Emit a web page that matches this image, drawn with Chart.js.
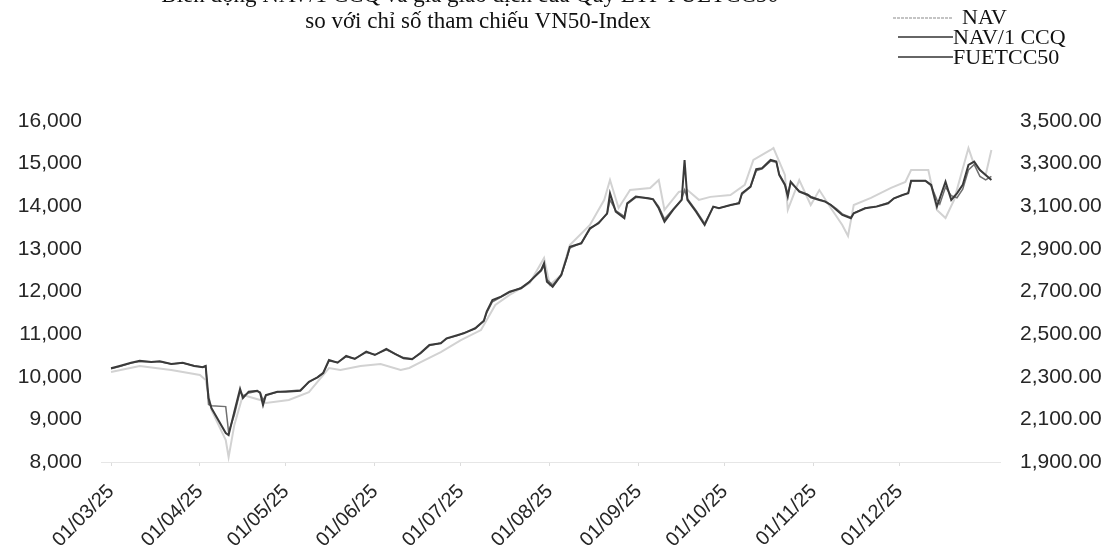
<!DOCTYPE html>
<html>
<head>
<meta charset="utf-8">
<script src="https://cdn.jsdelivr.net/npm/chart.js@4.4.1/dist/chart.umd.min.js"></script>
<style>
  html, body { margin: 0; padding: 0; background: #fff; }
  #wrap { width: 1120px; height: 560px; position: relative; }
</style>
</head>
<body>
<div id="wrap"><canvas id="chart" width="1120" height="560"></canvas></div>
<script>
// ngày tính từ 01/03/25
const days = [0, 3, 7, 10, 14, 17, 21, 25, 29, 32, 33, 34, 35, 40, 41, 43, 45, 46, 48, 51, 52, 53, 54, 58, 61, 66, 69, 72, 74, 76, 79, 82, 85, 89, 92, 96, 99, 102, 105, 108, 111, 115, 117, 121, 123, 127, 130, 131, 133, 136, 139, 143, 146, 150, 151, 152, 154, 157, 159, 160, 164, 167, 170, 173, 174, 176, 179, 180, 183, 187, 189, 191, 193, 196, 199, 200, 201, 204, 207, 210, 212, 216, 219, 220, 223, 225, 227, 230, 232, 233, 235, 236, 237, 240, 243, 244, 247, 249, 251, 253, 255, 258, 259, 263, 267, 271, 273, 276, 278, 279, 284, 286, 288, 289, 291, 293, 295, 297, 299, 301, 303, 305, 307];

const fuetcc50 = [10198, 10252, 10330, 10377, 10346, 10362, 10299, 10330, 10252, 10222, 10252, 9500, 9267, 8680, 8633, 9180, 9713, 9500, 9650, 9673, 9620, 9337, 9572, 9650, 9650, 9673, 9884, 9987, 10088, 10393, 10330, 10487, 10417, 10588, 10510, 10651, 10534, 10433, 10409, 10565, 10745, 10785, 10902, 10980, 11019, 11137, 11315, 11527, 11801, 11879, 11996, 12076, 12230, 12505, 12662, 12230, 12113, 12388, 12817, 13051, 13131, 13483, 13600, 13835, 14304, 13874, 13718, 14070, 14226, 14187, 14163, 13952, 13639, 13913, 14148, 15086, 14148, 13874, 13561, 13991, 13952, 14030, 14070, 14304, 14460, 14868, 14891, 15086, 15047, 14734, 14500, 14226, 14577, 14342, 14265, 14210, 14148, 14108, 14030, 13913, 13796, 13718, 13835, 13952, 13991, 14070, 14187, 14265, 14304, 14600, 14600, 14500, 13991, 14187, 14577, 14148, 14304, 14500, 14969, 15047, 14851, 14734, 14617];

const navCcq = [10190, 10240, 10320, 10360, 10350, 10350, 10300, 10320, 10260, 10230, 10250, 9350, 9320, 9300, 8700, 9100, 9650, 9550, 9620, 9660, 9640, 9450, 9560, 9640, 9660, 9690, 9870, 9990, 10100, 10370, 10340, 10470, 10430, 10570, 10520, 10630, 10540, 10450, 10420, 10550, 10730, 10790, 10890, 10970, 11030, 11130, 11300, 11500, 11760, 11870, 11980, 12090, 12240, 12480, 12600, 12280, 12150, 12380, 12790, 13020, 13140, 13460, 13620, 13820, 14150, 13900, 13760, 14050, 14210, 14200, 14170, 13990, 13700, 13930, 14160, 14380, 14180, 13900, 13600, 13980, 13960, 14020, 14080, 14280, 14450, 14830, 14880, 15060, 15030, 14760, 14520, 14300, 14550, 14360, 14280, 14230, 14160, 14120, 14040, 13940, 13820, 13740, 13840, 13960, 14000, 14080, 14180, 14260, 14310, 14590, 14590, 14480, 14150, 14050, 14450, 14250, 14200, 14400, 14850, 14980, 14700, 14620, 14700];

// NAV (trục phải)
const navDays = [0, 10, 21, 31, 33, 35, 40, 41, 43, 46, 52, 54, 62, 69, 76, 80, 87, 94, 101, 104, 108, 115, 122, 129, 134, 139, 146, 151, 153, 157, 160, 167, 172, 174, 177, 181, 188, 191, 193, 198, 201, 205, 209, 216, 221, 224, 230, 231, 235, 236, 240, 244, 247, 251, 255, 257, 259, 265, 272, 277, 279, 285, 288, 291, 294, 299, 301, 305, 307];
const nav = [2322, 2350, 2332, 2308, 2285, 2144, 2003, 1923, 2074, 2214, 2191, 2177, 2191, 2228, 2341, 2332, 2350, 2360, 2332, 2341, 2369, 2416, 2472, 2519, 2637, 2684, 2740, 2857, 2731, 2778, 2918, 3012, 3130, 3223, 3092, 3176, 3186, 3223, 3083, 3167, 3176, 3130, 3144, 3153, 3200, 3317, 3364, 3373, 3247, 3083, 3223, 3106, 3176, 3092, 3012, 2961, 3106, 3139, 3186, 3214, 3270, 3270, 3083, 3045, 3130, 3373, 3294, 3247, 3364];

const monthDays = [0, 31, 61, 92, 122, 153, 184, 214, 245, 275];
const monthLabels = ['01/03/25', '01/04/25', '01/05/25', '01/06/25', '01/07/25', '01/08/25', '01/09/25', '01/10/25', '01/11/25', '01/12/25'];

const titleLines = ['Biến động NAV/1 CCQ và giá giao dịch của Quỹ ETF FUETCC50', 'so với chỉ số tham chiếu VN50-Index'];
const legendItems = ['NAV', 'NAV/1 CCQ', 'FUETCC50'];

const pairs = (xs, ys) => xs.map((d, i) => ({ x: d, y: ys[i] }));

const sans = "'Liberation Sans', Arial, sans-serif";
const serif = "'Liberation Serif', 'Times New Roman', serif";

// tiêu đề + chú thích vẽ tay
const extras = {
  id: 'extras',
  afterDraw(chart) {
    const ctx = chart.ctx;
    ctx.save();
    ctx.fillStyle = '#111';
    ctx.font = '23px ' + serif;
    ctx.textAlign = 'center';
    ctx.textBaseline = 'middle';
    ctx.fillText(titleLines[0], 470, -4);
    ctx.fillText(titleLines[1], 478, 22);

    ctx.font = '22px ' + serif;
    ctx.textAlign = 'left';
    // NAV
    ctx.strokeStyle = '#c4c4c4';
    ctx.lineWidth = 2;
    ctx.setLineDash([3, 1]);
    ctx.beginPath(); ctx.moveTo(893, 18); ctx.lineTo(952, 18); ctx.stroke();
    ctx.setLineDash([]);
    ctx.fillText(legendItems[0], 962, 18);
    // NAV/1 CCQ
    ctx.strokeStyle = '#333';
    ctx.lineWidth = 1.5;
    ctx.beginPath(); ctx.moveTo(898, 37); ctx.lineTo(953, 37); ctx.stroke();
    ctx.fillText(legendItems[1], 953, 38);
    // FUETCC50
    ctx.beginPath(); ctx.moveTo(898, 57); ctx.lineTo(953, 57); ctx.stroke();
    ctx.fillText(legendItems[2], 953, 58);
    ctx.restore();
  }
};

new Chart(document.getElementById('chart'), {
  type: 'line',
  data: {
    datasets: [{
      label: 'FUETCC50',
      data: pairs(days, fuetcc50),
      borderColor: '#3a3a3a',
      borderWidth: 2,
      yAxisID: 'y',
      order: 0
    }, {
      label: 'NAV/1 CCQ',
      data: pairs(days, navCcq),
      borderColor: '#707070',
      borderWidth: 1.5,
      yAxisID: 'y',
      order: 1
    }, {
      label: 'NAV',
      data: pairs(navDays, nav),
      borderColor: '#d2d2d2',
      borderWidth: 2,
      yAxisID: 'y1',
      order: 2
    }]
  },
  options: {
    responsive: false,
    animation: false,
    layout: { padding: { top: 121, right: 0, left: 0, bottom: 0 } },
    elements: { point: { radius: 0 }, line: { tension: 0 } },
    plugins: { legend: { display: false }, tooltip: { enabled: false } },
    scales: {
      x: {
        type: 'linear',
        min: -3.5,
        max: 310,
        afterBuildTicks: s => { s.ticks = monthDays.map(v => ({ value: v })); },
        afterFit: s => { s.height = 98; },
        ticks: {
          callback: v => monthLabels[monthDays.indexOf(v)],
          autoSkip: false,
          minRotation: 45,
          maxRotation: 45,
          padding: 14,
          color: '#262626',
          font: { family: sans, size: 20 }
        },
        grid: { drawOnChartArea: false, color: '#dcdcdc', tickLength: 4 },
        border: { color: '#e6e6e6' }
      },
      y: {
        position: 'left',
        min: 8000,
        max: 16000,
        afterFit: s => { s.width = 101; },
        afterBuildTicks: s => { s.ticks = [8000, 9000, 10000, 11000, 12000, 13000, 14000, 15000, 16000].map(v => ({ value: v })); },
        ticks: {
          callback: v => v.toLocaleString('en-US'),
          autoSkip: false,
          padding: 11,
          color: '#262626',
          font: { family: sans, size: 21 }
        },
        grid: { display: false },
        border: { display: false }
      },
      y1: {
        position: 'right',
        min: 1900,
        max: 3500,
        afterFit: s => { s.width = 120; },
        afterBuildTicks: s => { s.ticks = [1900, 2100, 2300, 2500, 2700, 2900, 3100, 3300, 3500].map(v => ({ value: v })); },
        ticks: {
          callback: v => v.toLocaleString('en-US', { minimumFractionDigits: 2, maximumFractionDigits: 2 }),
          autoSkip: false,
          padding: 12,
          color: '#262626',
          font: { family: sans, size: 21 }
        },
        grid: { display: false },
        border: { display: false }
      }
    }
  },
  plugins: [extras]
});
</script>
</body>
</html>
